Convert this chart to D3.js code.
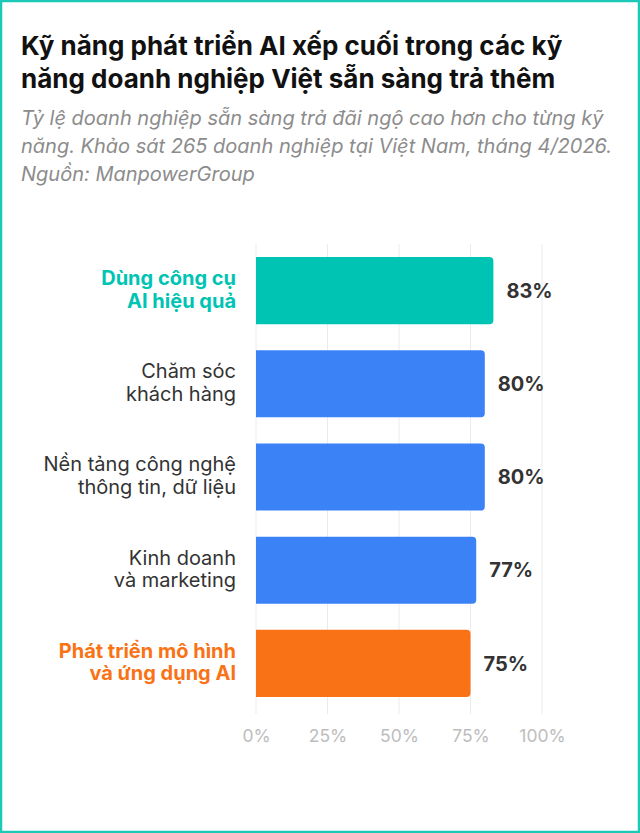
<!DOCTYPE html>
<html>
<head>
<meta charset="utf-8">
<script src="https://cdn.jsdelivr.net/npm/d3@7"></script>
<style>
  body { margin: 0; background: #fff; }
  svg { display: block; font-family: Inter, "Noto Sans", sans-serif; }
</style>
</head>
<body>
<div id="chart"></div>
<script>
// data
const categories = [
  ['Dùng công cụ', 'AI hiệu quả'],
  ['Chăm sóc', 'khách hàng'],
  ['Nền tảng công nghệ', 'thông tin, dữ liệu'],
  ['Kinh doanh', 'và marketing'],
  ['Phát triển mô hình', 'và ứng dụng AI']
]
const values = [83, 80, 80, 77, 75]
const groups = ['use', 'other', 'other', 'other', 'build']
const tickValues = [0, 25, 50, 75, 100]

const titleLines = [
  'Kỹ năng phát triển AI xếp cuối trong các kỹ',
  'năng doanh nghiệp Việt sẵn sàng trả thêm'
]
const subtitleLines = [
  'Tỷ lệ doanh nghiệp sẵn sàng trả đãi ngộ cao hơn cho từng kỹ',
  'năng. Khảo sát 265 doanh nghiệp tại Việt Nam, tháng 4/2026.',
  'Nguồn: ManpowerGroup'
]

const colors = { use: '#00c4b3', other: '#3b82f6', build: '#f97316' }
const labelColors = { use: '#00c4b3', other: '#333333', build: '#f97316' }

const W = 640, H = 833

const svg = d3.select('#chart').append('svg')
  .attr('width', W)
  .attr('height', H)

svg.append('rect')
  .attr('x', 1).attr('y', 1)
  .attr('width', W - 2).attr('height', H - 2)
  .attr('fill', '#fff')
  .attr('stroke', '#1cc9b6')
  .attr('stroke-width', 2.5)

svg.append('text')
  .attr('x', 21).attr('y', 55)
  .attr('font-size', 26).attr('font-weight', 700)
  .attr('fill', '#111')
  .selectAll('tspan').data(titleLines)
  .enter().append('tspan')
  .attr('x', 21)
  .attr('dy', (d, i) => i ? 33 : 0)
  .text(d => d)

svg.append('text')
  .attr('x', 21).attr('y', 125)
  .attr('font-size', 20).attr('font-style', 'italic')
  .attr('fill', '#8c8c8c')
  .selectAll('tspan').data(subtitleLines)
  .enter().append('tspan')
  .attr('x', 21)
  .attr('dy', (d, i) => i ? 28 : 0)
  .text(d => d)

const x = d3.scaleLinear().domain([0, 100]).range([256, 542])
const y = d3.scaleBand()
  .domain(d3.range(values.length))
  .range([244, 710])
  .paddingInner(0.28)
  .paddingOuter(0.14)

// grid
svg.append('g').selectAll('line').data(tickValues)
  .enter().append('line')
  .attr('x1', d => x(d)).attr('x2', d => x(d))
  .attr('y1', 244).attr('y2', 714)
  .attr('stroke', '#ebebeb')
  .attr('stroke-width', 1)

const axis = svg.append('g')
  .attr('transform', 'translate(0,728)')
  .call(d3.axisBottom(x).tickValues(tickValues).tickFormat(d => d + '%').tickSize(0))
axis.select('.domain').remove()
axis.selectAll('text')
  .attr('font-family', 'Inter, sans-serif')
  .attr('font-size', 17.5)
  .attr('fill', '#bdbdbd')
  .attr('dy', '0.6em')

// bars, left edge square, right edge rounded
const r = 4
svg.append('g').selectAll('path').data(values)
  .enter().append('path')
  .attr('fill', (d, i) => colors[groups[i]])
  .attr('d', (d, i) => {
    const x0 = x(0), x1 = x(d), y0 = y(i), h = y.bandwidth()
    return `M${x0},${y0}H${x1 - r}Q${x1},${y0} ${x1},${y0 + r}V${y0 + h - r}Q${x1},${y0 + h} ${x1 - r},${y0 + h}H${x0}Z`
  })

svg.append('g').selectAll('text').data(values)
  .enter().append('text')
  .attr('x', d => x(d) + 13)
  .attr('y', (d, i) => y(i) + y.bandwidth() / 2)
  .attr('dy', '0.36em')
  .attr('font-size', 20).attr('font-weight', 700)
  .attr('fill', '#333')
  .text(d => d + '%')

// category labels
const labels = svg.append('g').selectAll('text').data(categories)
  .enter().append('text')
  .attr('text-anchor', 'end')
  .attr('font-size', 20)
  .attr('font-weight', (d, i) => groups[i] === 'other' ? 400 : 700)
  .attr('fill', (d, i) => labelColors[groups[i]])
  .attr('y', (d, i) => y(i) + y.bandwidth() / 2 - 11)
labels.selectAll('tspan').data(d => d)
  .enter().append('tspan')
  .attr('x', 236)
  .attr('dy', (d, i) => i ? 22.5 : 0)
  .attr('dominant-baseline', 'middle')
  .text(d => d)
</script>
</body>
</html>
